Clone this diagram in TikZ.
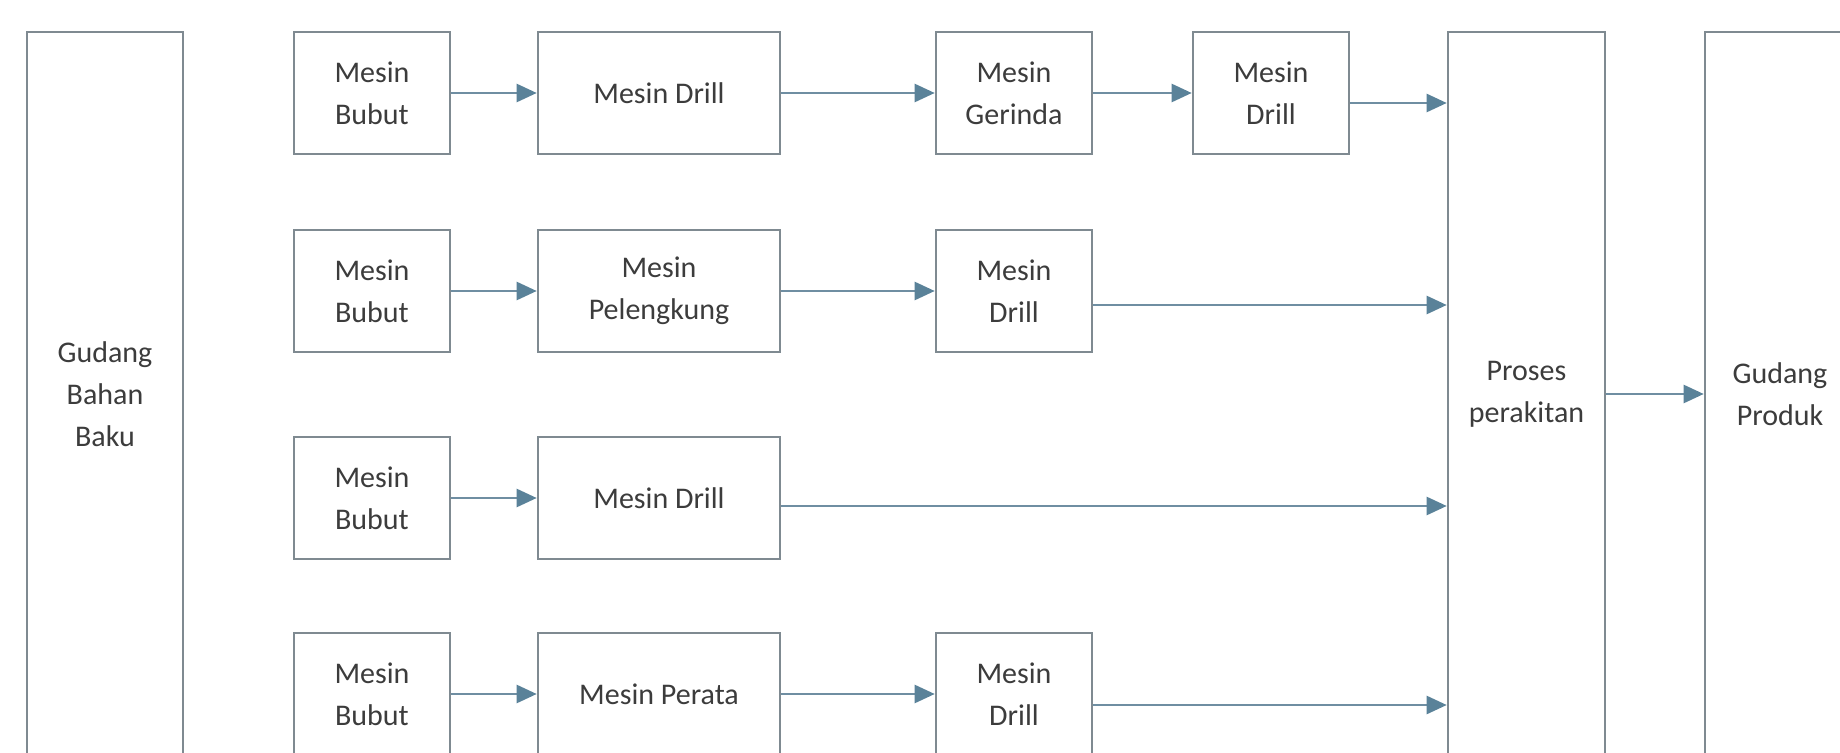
\documentclass[tikz,border=0pt]{standalone}
\usepackage{fontspec}
\setmainfont{Carlito}
\usetikzlibrary{arrows.meta}
\definecolor{boxline}{HTML}{7F8A91}
\definecolor{flowline}{HTML}{6F8EA2}
\definecolor{flowhead}{HTML}{5A8299}
\definecolor{labeltext}{HTML}{3C3C3C}
\tikzset{
  px/.style={x=0.5pt,y=-0.5pt},
  box/.style={draw=boxline,line width=1.3pt,fill=white,inner sep=0pt,
    align=center,text=labeltext,font=\fontsize{15pt}{21pt}\selectfont,
    minimum height=61pt},
  narrow/.style={box,minimum width=78pt},
  wide/.style={box,minimum width=121pt},
  tall/.style={box,minimum height=362pt},
  flow/.style={draw=flowline,line width=1.2pt,
    -{Triangle[length=10pt,width=9pt,color=flowhead]}}
}
\begin{document}
\begin{tikzpicture}[px]
\useasboundingbox (0,0) rectangle (1840,753);
\clip (0,0) rectangle (1840,753);
\fill[white] (0,0) rectangle (1840,753);

% storage and assembly columns
\node[tall,minimum width=78pt] (gbb) at (105,394) {Gudang\\Bahan\\Baku};
\node[tall,minimum width=78.5pt] (pr) at (1526.5,394) {Proses\\perakitan};
\node[tall,minimum width=75pt] (gp) at (1780,394) {Gudang\\Produk};

% row 1
\node[narrow] (b1) at (372,93) {Mesin\\Bubut};
\node[wide] (d1) at (659,93) {Mesin Drill};
\node[narrow] (g1) at (1014,93) {Mesin\\Gerinda};
\node[narrow] (e1) at (1271,93) {Mesin\\Drill};

% row 2
\node[narrow] (b2) at (372,291) {Mesin\\Bubut};
\node[wide] (l2) at (659,291) {Mesin\\Pelengkung};
\node[narrow] (d2) at (1014,291) {Mesin\\Drill};

% row 3
\node[narrow] (b3) at (372,498) {Mesin\\Bubut};
\node[wide] (d3) at (659,498) {Mesin Drill};

% row 4
\node[narrow] (b4) at (372,694) {Mesin\\Bubut};
\node[wide] (p4) at (659,694) {Mesin Perata};
\node[narrow] (d4) at (1014,694) {Mesin\\Drill};

% connectors
\draw[flow] (b1) -- (d1);
\draw[flow] (d1) -- (g1);
\draw[flow] (g1) -- (e1);
\draw[flow] ([yshift=-5pt]e1.east) -- ([yshift=-5pt]e1.east -| pr.west);

\draw[flow] (b2) -- (l2);
\draw[flow] (l2) -- (d2);
\draw[flow] ([yshift=-7pt]d2.east) -- ([yshift=-7pt]d2.east -| pr.west);

\draw[flow] (b3) -- (d3);
\draw[flow] ([yshift=-4pt]d3.east) -- ([yshift=-4pt]d3.east -| pr.west);

\draw[flow] (b4) -- (p4);
\draw[flow] (p4) -- (d4);
\draw[flow] ([yshift=-5.5pt]d4.east) -- ([yshift=-5.5pt]d4.east -| pr.west);

\draw[flow] (pr) -- (gp);
\end{tikzpicture}
\end{document}
